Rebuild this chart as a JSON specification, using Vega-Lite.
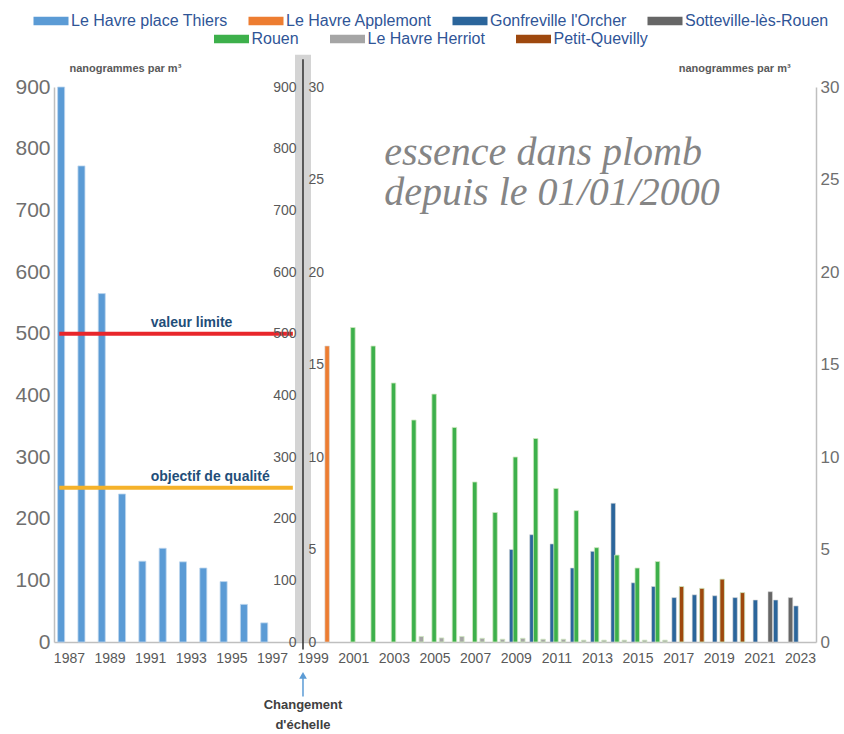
{
  "$schema": "https://vega.github.io/schema/vega-lite/v6.json",
  "width": 762,
  "height": 555,
  "padding": {"left": 14, "top": 11, "right": 4, "bottom": 0},
  "background": "white",
  "config": {
    "view": {"stroke": null},
    "font": "Liberation Sans",
    "axis": {"grid": false, "ticks": false, "tickSize": 0, "title": null},
    "legend": {"layout": {"top": {"anchor": "middle", "direction": "vertical", "margin": 0, "center": true}}}
  },
  "datasets": {
    "thiers": [
      {"year": 1987, "station": "Le Havre place Thiers", "value": 900},
      {"year": 1988, "station": "Le Havre place Thiers", "value": 772},
      {"year": 1989, "station": "Le Havre place Thiers", "value": 565},
      {"year": 1990, "station": "Le Havre place Thiers", "value": 240},
      {"year": 1991, "station": "Le Havre place Thiers", "value": 131},
      {"year": 1992, "station": "Le Havre place Thiers", "value": 152},
      {"year": 1993, "station": "Le Havre place Thiers", "value": 130},
      {"year": 1994, "station": "Le Havre place Thiers", "value": 120},
      {"year": 1995, "station": "Le Havre place Thiers", "value": 98},
      {"year": 1996, "station": "Le Havre place Thiers", "value": 61},
      {"year": 1997, "station": "Le Havre place Thiers", "value": 31}
    ],
    "others": [
      {"year": 1999, "station": "Le Havre Applemont", "value": 16.0},
      {"year": 2001, "station": "Rouen", "value": 17.0},
      {"year": 2002, "station": "Rouen", "value": 16.0},
      {"year": 2003, "station": "Rouen", "value": 14.0},
      {"year": 2004, "station": "Rouen", "value": 12.0},
      {"year": 2005, "station": "Rouen", "value": 13.4},
      {"year": 2006, "station": "Rouen", "value": 11.6},
      {"year": 2007, "station": "Rouen", "value": 8.65},
      {"year": 2008, "station": "Rouen", "value": 7.0},
      {"year": 2009, "station": "Rouen", "value": 10.0},
      {"year": 2010, "station": "Rouen", "value": 11.0},
      {"year": 2011, "station": "Rouen", "value": 8.3},
      {"year": 2012, "station": "Rouen", "value": 7.1},
      {"year": 2013, "station": "Rouen", "value": 5.1},
      {"year": 2014, "station": "Rouen", "value": 4.7},
      {"year": 2015, "station": "Rouen", "value": 4.0},
      {"year": 2016, "station": "Rouen", "value": 4.35},
      {"year": 2009, "station": "Gonfreville l'Orcher", "value": 5.0},
      {"year": 2010, "station": "Gonfreville l'Orcher", "value": 5.8},
      {"year": 2011, "station": "Gonfreville l'Orcher", "value": 5.3},
      {"year": 2012, "station": "Gonfreville l'Orcher", "value": 4.0},
      {"year": 2013, "station": "Gonfreville l'Orcher", "value": 4.9},
      {"year": 2014, "station": "Gonfreville l'Orcher", "value": 7.5},
      {"year": 2015, "station": "Gonfreville l'Orcher", "value": 3.2},
      {"year": 2016, "station": "Gonfreville l'Orcher", "value": 3.0},
      {"year": 2017, "station": "Gonfreville l'Orcher", "value": 2.4},
      {"year": 2018, "station": "Gonfreville l'Orcher", "value": 2.55},
      {"year": 2019, "station": "Gonfreville l'Orcher", "value": 2.5},
      {"year": 2020, "station": "Gonfreville l'Orcher", "value": 2.4},
      {"year": 2021, "station": "Gonfreville l'Orcher", "value": 2.27},
      {"year": 2022, "station": "Gonfreville l'Orcher", "value": 2.27},
      {"year": 2023, "station": "Gonfreville l'Orcher", "value": 1.95},
      {"year": 2004, "station": "Le Havre Herriot", "value": 0.3},
      {"year": 2005, "station": "Le Havre Herriot", "value": 0.22},
      {"year": 2006, "station": "Le Havre Herriot", "value": 0.3},
      {"year": 2007, "station": "Le Havre Herriot", "value": 0.2},
      {"year": 2008, "station": "Le Havre Herriot", "value": 0.15},
      {"year": 2009, "station": "Le Havre Herriot", "value": 0.2},
      {"year": 2010, "station": "Le Havre Herriot", "value": 0.15},
      {"year": 2011, "station": "Le Havre Herriot", "value": 0.15},
      {"year": 2012, "station": "Le Havre Herriot", "value": 0.1},
      {"year": 2013, "station": "Le Havre Herriot", "value": 0.1},
      {"year": 2014, "station": "Le Havre Herriot", "value": 0.1},
      {"year": 2015, "station": "Le Havre Herriot", "value": 0.1},
      {"year": 2016, "station": "Le Havre Herriot", "value": 0.1},
      {"year": 2017, "station": "Petit-Quevilly", "value": 3.0},
      {"year": 2018, "station": "Petit-Quevilly", "value": 2.9},
      {"year": 2019, "station": "Petit-Quevilly", "value": 3.4},
      {"year": 2020, "station": "Petit-Quevilly", "value": 2.67},
      {"year": 2021, "station": "Sotteville-lès-Rouen", "value": 2.72},
      {"year": 2022, "station": "Sotteville-lès-Rouen", "value": 2.4}
    ],
    "limits": [
      {"label": "valeur limite", "value": 500, "from": 1987, "to": 1998},
      {"label": "objectif de qualité", "value": 250, "from": 1987, "to": 1998}
    ],
    "units": [
      {"label": "nanogrammes par m³", "year": 1987, "value": 31.0},
      {"label": "nanogrammes par m³", "year": 2017, "value": 31.0}
    ],
    "essence": [
      {"label": "essence dans plomb", "year": 2003, "value": 25.8},
      {"label": "depuis le 01/01/2000", "year": 2003, "value": 23.6}
    ],
    "scalechange": [
      {"label": "Changement", "year": 1999, "value": -3.4},
      {"label": "d'échelle", "year": 1999, "value": -4.5}
    ]
  },
  "layer": [
    {
      "layer": [
        {
          "data": {"name": "thiers"},
          "mark": {"type": "bar", "width": 7, "stroke": "#bcd5ee", "strokeWidth": 0.8},
          "encoding": {
            "x": {
              "field": "year", "type": "ordinal",
              "scale": {"domain": [1987,1988,1989,1990,1991,1992,1993,1994,1995,1996,1997,1998,1999,2000,2001,2002,2003,2004,2005,2006,2007,2008,2009,2010,2011,2012,2013,2014,2015,2016,2017,2018,2019,2020,2021,2022,2023], "paddingInner": 0, "paddingOuter": 0.26},
              "axis": {"labelExpr": "datum.value % 2 == 1 ? datum.label : ''", "labelAngle": 0, "labelFontSize": 14, "labelColor": "#595959", "domainColor": "#bfbfbf", "domainWidth": 1.5, "labelPadding": 9}
            },
            "xOffset": {"field": "station", "type": "nominal", "scale": {"domain": ["Le Havre place Thiers", "Gonfreville l'Orcher", "Rouen", "Petit-Quevilly", "Le Havre Herriot", "Sotteville-lès-Rouen", "Le Havre Applemont"], "range": [0, 26]}},
            "y": {"field": "value", "type": "quantitative", "scale": {"domain": [0, 900], "nice": false},
              "axis": {"orient": "left", "values": [0,100,200,300,400,500,600,700,800,900], "labelFontSize": 21, "labelColor": "#6f6f6f", "domainColor": "#bfbfbf", "domainWidth": 1.5, "labelPadding": 4}},
            "color": {"field": "station", "type": "nominal",
              "scale": {"domain": ["Le Havre place Thiers", "Le Havre Applemont", "Gonfreville l'Orcher", "Sotteville-lès-Rouen"],
                        "range": ["#5B9BD5", "#ED7D31", "#2B659B", "#666666"]},
              "legend": {"orient": "top", "direction": "horizontal", "title": null, "symbolType": "M-1.75,-0.42H1.75V0.42H-1.75Z", "symbolSize": 400, "symbolStrokeWidth": 0, "labelFontSize": 16, "labelColor": "#2F5597", "columnPadding": 20, "offset": 40, "labelOffset": 10, "labelLimit": 220}}
          }
        },
        {
          "data": {"name": "limits"},
          "mark": {"type": "rule", "strokeWidth": 4},
          "encoding": {
            "x": {"field": "from", "type": "ordinal", "bandPosition": 0},
            "x2": {"field": "to"},
            "y": {"field": "value", "type": "quantitative"},
            "stroke": {"field": "label", "type": "nominal", "scale": {"domain": ["valeur limite", "objectif de qualité"], "range": ["#E8262B", "#F5B22A"]}, "legend": null}
          }
        },
        {
          "data": {"name": "limits"},
          "mark": {"type": "text", "align": "left", "baseline": "alphabetic", "dy": -7, "fontSize": 14, "fontWeight": "bold", "color": "#1F4E79"},
          "encoding": {
            "x": {"datum": 1991, "type": "ordinal"},
            "y": {"field": "value", "type": "quantitative"},
            "text": {"field": "label"}
          }
        }
      ]
    },
    {
      "layer": [
        {
          "data": {"name": "others"},
          "transform": [{"filter": {"field": "station", "oneOf": ["Le Havre Applemont", "Gonfreville l'Orcher", "Sotteville-lès-Rouen"]}}],
          "mark": {"type": "bar", "width": 4.5, "stroke": "#d9d9d9", "strokeWidth": 0.6},
          "encoding": {
            "x": {"field": "year", "type": "ordinal"},
            "xOffset": {"field": "station", "type": "nominal"},
            "y": {"field": "value", "type": "quantitative", "scale": {"domain": [0, 30], "nice": false},
              "axis": {"orient": "right", "values": [0,5,10,15,20,25,30], "labelFontSize": 17, "labelColor": "#6f6f6f", "domainColor": "#bfbfbf", "domainWidth": 1.5, "labelPadding": 4}},
            "color": {"field": "station", "type": "nominal"}
          }
        },
        {
          "data": {"name": "others"},
          "transform": [{"filter": {"field": "station", "oneOf": ["Rouen", "Le Havre Herriot", "Petit-Quevilly"]}}],
          "mark": {"type": "bar", "width": 4.5, "stroke": "#cfe8c0", "strokeWidth": 0.8},
          "encoding": {
            "x": {"field": "year", "type": "ordinal"},
            "xOffset": {"field": "station", "type": "nominal"},
            "y": {"field": "value", "type": "quantitative"},
            "fill": {"field": "station", "type": "nominal",
              "scale": {"domain": ["Rouen", "Le Havre Herriot", "Petit-Quevilly"], "range": ["#3DB04B", "#A5A5A5", "#9E480E"]},
              "legend": {"orient": "top", "direction": "horizontal", "title": null, "symbolType": "M-1.75,-0.42H1.75V0.42H-1.75Z", "symbolSize": 400, "symbolStrokeWidth": 0, "labelFontSize": 16, "labelColor": "#2F5597", "columnPadding": 30, "offset": 40, "labelOffset": 10, "labelLimit": 220}}
          }
        },
        {
          "data": {"name": "essence"},
          "mark": {"type": "text", "align": "left", "baseline": "alphabetic", "font": "Liberation Serif", "fontStyle": "italic", "fontSize": 40, "color": "#858585"},
          "encoding": {
            "x": {"field": "year", "type": "ordinal", "bandPosition": 0},
            "y": {"field": "value", "type": "quantitative"},
            "text": {"field": "label"}
          }
        },
        {
          "data": {"name": "units"},
          "mark": {"type": "text", "align": "left", "baseline": "middle", "fontSize": 11, "fontWeight": "bold", "color": "#595959"},
          "encoding": {
            "x": {"field": "year", "type": "ordinal"},
            "y": {"field": "value", "type": "quantitative"},
            "text": {"field": "label"}
          }
        },
        {
          "data": {"values": [{"item": "séparateur"}]},
          "mark": {"type": "rule", "strokeWidth": 16, "color": "#d4d4d4"},
          "encoding": {
            "x": {"datum": 1999, "type": "ordinal", "bandPosition": 0},
            "y": {"datum": 0},
            "y2": {"datum": 31.75}
          }
        },
        {
          "data": {"values": [{"item": "séparateur"}]},
          "mark": {"type": "rule", "strokeWidth": 1.6, "color": "#3a3a3a"},
          "encoding": {
            "x": {"datum": 1999, "type": "ordinal", "bandPosition": 0},
            "y": {"datum": -0.4},
            "y2": {"datum": 31.5}
          }
        },
        {
          "data": {"values": [{"item": "flèche"}]},
          "mark": {"type": "rule", "strokeWidth": 1.5, "color": "#5B9BD5"},
          "encoding": {
            "x": {"datum": 1999, "type": "ordinal", "bandPosition": 0},
            "y": {"datum": -1.75},
            "y2": {"datum": -2.95}
          }
        },
        {
          "data": {"values": [{"item": "flèche"}]},
          "mark": {"type": "point", "shape": "triangle-up", "filled": true, "size": 60, "color": "#5B9BD5", "opacity": 1},
          "encoding": {
            "x": {"datum": 1999, "type": "ordinal", "bandPosition": 0},
            "y": {"datum": -1.8}
          }
        },
        {
          "data": {"name": "scalechange"},
          "mark": {"type": "text", "align": "center", "baseline": "middle", "fontSize": 13, "fontWeight": "bold", "color": "#404040"},
          "encoding": {
            "x": {"field": "year", "type": "ordinal", "bandPosition": 0},
            "y": {"field": "value", "type": "quantitative"},
            "text": {"field": "label"}
          }
        }
      ]
    },
    {
      "data": {"name": "thiers"},
      "mark": {"type": "point", "opacity": 0},
      "encoding": {
        "x": {"field": "year", "type": "ordinal"},
        "y": {"field": "value", "type": "quantitative", "scale": {"domain": [0, 900], "nice": false},
          "axis": {"orient": "left", "offset": -244, "values": [0,100,200,300,400,500,600,700,800,900], "domain": false, "labelFontSize": 14, "labelColor": "#595959", "labelPadding": 2, "zindex": 2}}
      }
    },
    {
      "data": {"name": "others"},
      "mark": {"type": "point", "opacity": 0},
      "encoding": {
        "x": {"field": "year", "type": "ordinal"},
        "y": {"field": "value", "type": "quantitative", "scale": {"domain": [0, 30], "nice": false},
          "axis": {"orient": "right", "offset": -510, "values": [0,5,10,15,20,25,30], "domain": false, "labelFontSize": 14, "labelColor": "#595959", "labelPadding": 2, "zindex": 2}}
      }
    }
  ],
  "resolve": {"scale": {"y": "independent"}}
}
